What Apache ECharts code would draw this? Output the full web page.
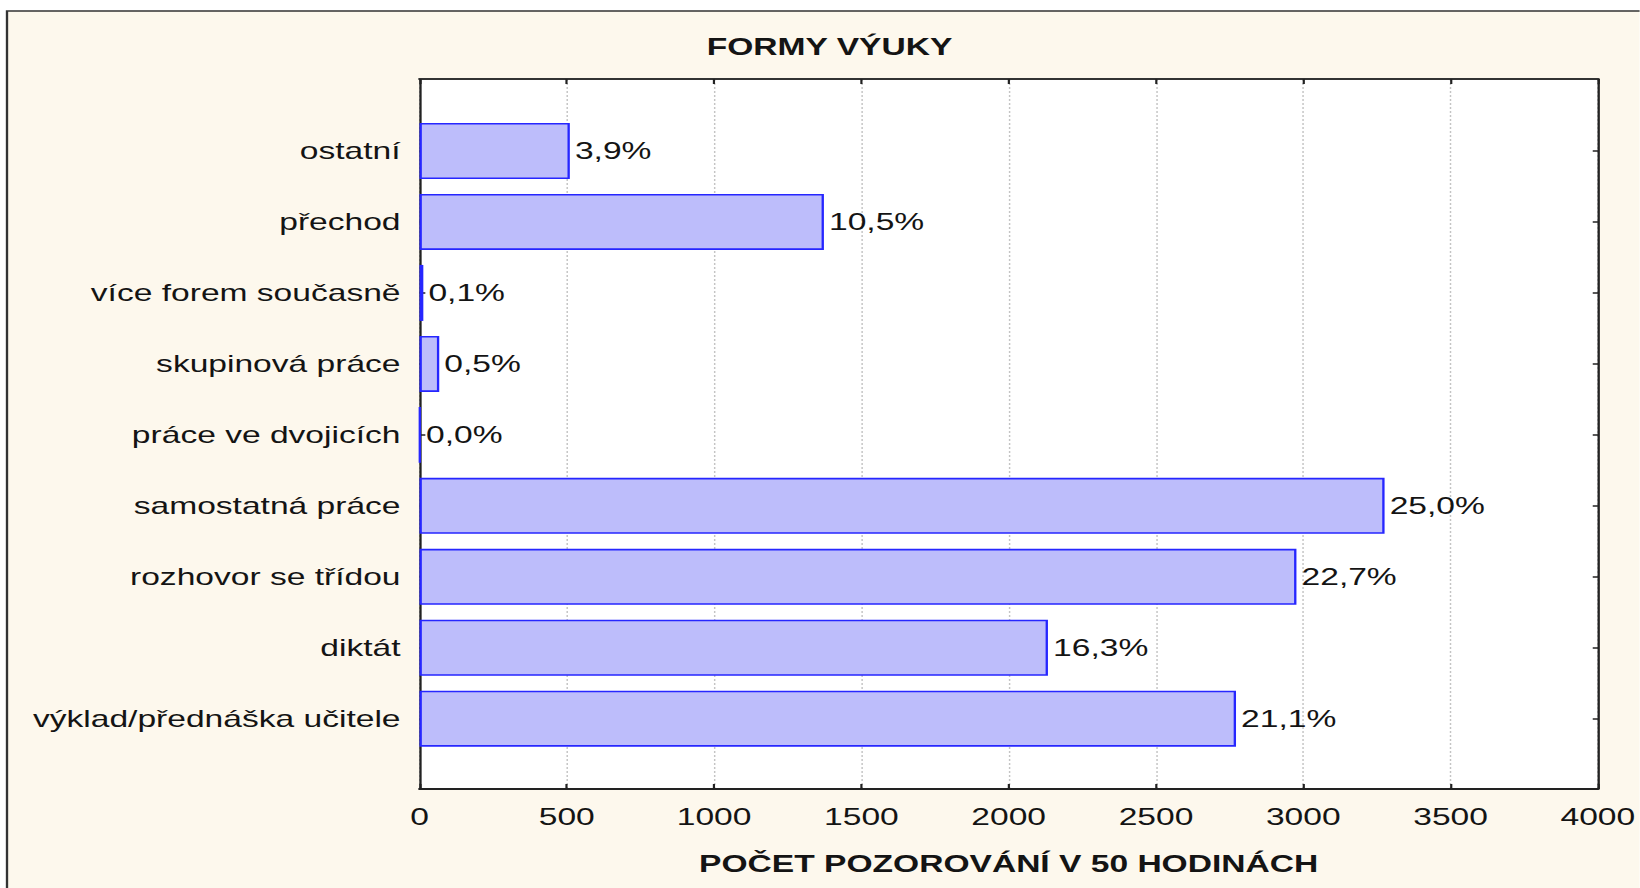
<!DOCTYPE html>
<html>
<head>
<meta charset="utf-8">
<script src="https://cdn.jsdelivr.net/npm/echarts@6/dist/echarts.min.js"></script>
<style>
  html, body { margin: 0; padding: 0; background: #ffffff; overflow: hidden; }
  #wrap { width: 1640px; height: 888px; overflow: hidden; position: relative; }
  #chart { height: 888px; transform-origin: 0 0; position: absolute; left: 0; top: 0; }
</style>
</head>
<body>
<div id="wrap"><div id="chart"></div></div>
<script>
// Data (bottom to top, as drawn on the category axis)
const categories = [
  'výklad/přednáška učitele',
  'diktát',
  'rozhovor se třídou',
  'samostatná práce',
  'práce ve dvojicích',
  'skupinová práce',
  'více forem současně',
  'přechod',
  'ostatní'
];
const counts = [2770, 2132, 2975, 3274, 2, 67, 13, 1372, 510];
const percentLabels = ['21,1%', '16,3%', '22,7%', '25,0%', '0,0%', '0,5%', '0,1%', '10,5%', '3,9%'];
const xTicks = { min: 0, max: 4000, interval: 500 };
const titleText = 'FORMY VÝUKY';
const xAxisTitle = 'POČET POZOROVÁNÍ V 50 HODINÁCH';

const FONT = '"Liberation Sans", Arial, sans-serif';
const TXT = '#141414';
const LINE = '#222222';

// The reference's lettering is horizontally stretched; reproduce that with a horizontal scale.
const SX = 1.46;
const W = 1640 / SX;
const el = document.getElementById('chart');
el.style.width = W + 'px';
el.style.transform = 'scaleX(' + SX + ')';

const plotLeft = 419.5 / SX, plotRight = (1640 - 1599) / SX;

const chart = echarts.init(el, null, { renderer: 'svg' });

chart.setOption({
  backgroundColor: 'transparent',
  animation: false,
  textStyle: { fontFamily: FONT },
  graphic: [{
    type: 'rect',
    z: -10,
    silent: true,
    shape: { x: 7 / SX, y: 11, width: 1300, height: 1000 },
    style: { fill: '#fdf8ed', stroke: '#333333', lineWidth: 1.6 }
  }],
  title: {
    text: titleText,
    left: 829.5 / SX - 5,
    top: 31,
    textAlign: 'center',
    textStyle: { fontFamily: FONT, fontSize: 23, fontWeight: 'bold', color: TXT }
  },
  grid: [
    { left: plotLeft, right: plotRight, top: 79, bottom: 99, show: true, backgroundColor: '#ffffff', borderWidth: 0 },
    { left: plotLeft, right: plotRight, top: 115.5, bottom: 133.8 }
  ],
  xAxis: [
    {
      gridIndex: 0, type: 'value', position: 'bottom',
      min: xTicks.min, max: xTicks.max, interval: xTicks.interval,
      axisLine: { show: true, onZero: false, lineStyle: { color: LINE, width: 2 } },
      axisTick: { show: true, inside: true, length: 5, lineStyle: { color: LINE, width: 1.5 } },
      axisLabel: { show: true, fontSize: 23, color: TXT, fontFamily: FONT, margin: 17,
                   formatter: function (v) { return String(v); } },
      splitLine: { show: true, lineStyle: { color: '#c4c4c4', width: 1, type: [2, 2] } },
      name: xAxisTitle, nameLocation: 'middle', nameGap: 64,
      nameTextStyle: { fontSize: 23, fontWeight: 'bold', color: TXT, fontFamily: FONT }
    },
    {
      gridIndex: 0, type: 'value', position: 'top',
      min: xTicks.min, max: xTicks.max, interval: xTicks.interval,
      axisLine: { show: true, onZero: false, lineStyle: { color: '#333333', width: 2 } },
      axisTick: { show: true, inside: true, length: 5, lineStyle: { color: LINE, width: 1.5 } },
      axisLabel: { show: false },
      splitLine: { show: false }
    },
    {
      gridIndex: 1, type: 'value', min: xTicks.min, max: xTicks.max, interval: xTicks.interval,
      show: false
    }
  ],
  yAxis: [
    {
      gridIndex: 0, type: 'value', position: 'left', min: 0, max: 1,
      axisLine: { show: true, onZero: false, lineStyle: { color: LINE, width: 1.6 } },
      axisTick: { show: false }, axisLabel: { show: false }, splitLine: { show: false }
    },
    {
      gridIndex: 0, type: 'value', position: 'right', min: 0, max: 1,
      axisLine: { show: true, onZero: false, lineStyle: { color: LINE, width: 1.6 } },
      axisTick: { show: false }, axisLabel: { show: false }, splitLine: { show: false }
    },
    {
      gridIndex: 1, type: 'category', position: 'left', data: categories,
      axisLine: { show: false, onZero: false },
      axisTick: { show: true, inside: true, length: 4, alignWithLabel: true, lineStyle: { color: LINE, width: 1.5 } },
      axisLabel: { fontSize: 23, color: TXT, fontFamily: FONT, margin: 13 },
      splitLine: { show: false }
    },
    {
      gridIndex: 1, type: 'category', position: 'right', data: categories,
      axisLine: { show: false, onZero: false },
      axisTick: { show: true, inside: true, length: 4, alignWithLabel: true, lineStyle: { color: LINE, width: 1.5 } },
      axisLabel: { show: false },
      splitLine: { show: false }
    }
  ],
  series: [{
    type: 'bar',
    xAxisIndex: 2,
    yAxisIndex: 2,
    data: counts,
    barWidth: 56,
    itemStyle: { color: '#bdbdfb', borderColor: '#2626ff', borderWidth: 1.6 },
    label: {
      show: true,
      position: 'right',
      distance: 3.5,
      fontSize: 23,
      color: TXT,
      fontFamily: FONT,
      formatter: function (p) { return percentLabels[p.dataIndex]; }
    }
  }]
});
</script>
</body>
</html>
